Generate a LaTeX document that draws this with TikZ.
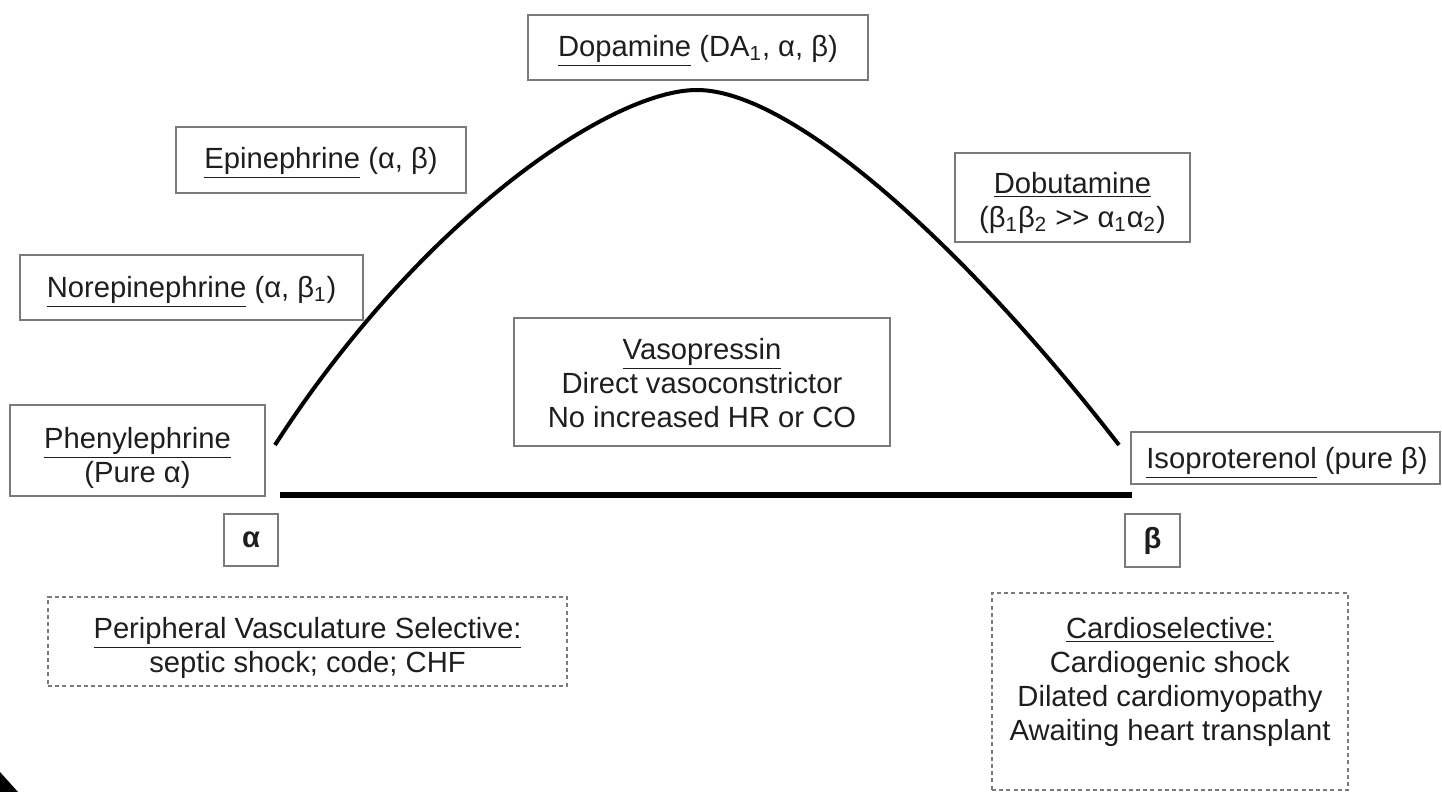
\documentclass[tikz,border=0pt]{standalone}
\usepackage{fontspec}
\setmainfont{Liberation Sans}
\definecolor{frame}{HTML}{7A7A7A}
\definecolor{ink}{HTML}{1E1E1E}
\begin{document}
\begin{tikzpicture}[x=0.5pt,y=-0.5pt,
  every node/.style={font=\fontsize{14.6}{17}\selectfont, text=ink},
  drug/.style={draw=frame, line width=1.1pt, inner sep=0pt},
  tag/.style={drug, font=\fontsize{14.6}{17}\selectfont\bfseries},
  usebox/.style={draw=frame, line width=0.9pt, dash pattern=on 2pt off 1.6pt, inner sep=0pt},
  lbl/.style={align=center, inner sep=0pt},
  curveline/.style={line width=2pt, black, line join=round},
  axisline/.style={line width=3pt, black}]
\useasboundingbox (0,0) rectangle (1442,792);

% drug boxes
\node[drug, minimum width=170pt, minimum height=32.5pt] (dopa) at (698,47.5) {};
\node[drug, minimum width=145pt, minimum height=33pt] (epi) at (321,160) {};
\node[drug, minimum width=171.5pt, minimum height=32.5pt] (norepi) at (191.5,287.5) {};
\node[drug, minimum width=127.5pt, minimum height=45.5pt] (phenyl) at (137.5,450.5) {};
\node[drug, minimum width=188pt, minimum height=64pt] (vaso) at (702,382) {};
\node[drug, minimum width=117.5pt, minimum height=44.5pt] (dobu) at (1072.5,197.5) {};
\node[drug, minimum width=154.5pt, minimum height=26pt] (iso) at (1285.5,458) {};

% drug labels
\node[lbl] (dopatext) at (698,50.5) {\underline{Dopamine} (DA\textsubscript{1}, α, β)};
\node[lbl] (epitext) at (321,163) {\underline{Epinephrine} (α, β)};
\node[lbl] (norepitext) at (191.5,292) {\underline{Norepinephrine} (α, β\textsubscript{1})};
\node[lbl] (phenyltext) at (137.5,457.5) {\underline{Phenylephrine}\\(Pure α)};
\node[lbl] (vasotext) at (702,383) {\underline{Vasopressin}\\Direct vasoconstrictor\\No increased HR or CO};
\node[lbl] (dobutext) at (1072.5,203) {\underline{Dobutamine}\\(β\textsubscript{1}β\textsubscript{2} >\kern0pt> α\textsubscript{1}α\textsubscript{2})};
\node[lbl] (isotext) at (1287,463) {\underline{Isoproterenol} (pure β)};

% receptor tags
\node[tag, minimum width=27pt, minimum height=26pt] (alpha) at (251,540) {α};
\node[tag, minimum width=27.5pt, minimum height=26.5pt] (beta) at (1152.5,540.5) {β};

% clinical use boxes
\node[usebox, minimum width=259.5pt, minimum height=44.5pt] (periph) at (307.5,641.5) {};
\node[lbl] (periphtext) at (307.5,647.5)
  {\underline{Peripheral Vasculature Selective:}\\septic shock; code; CHF};
\node[usebox, minimum width=178pt, minimum height=98.5pt] (cardio) at (1170,691.5) {};
\node[lbl] (cardiotext) at (1170,682)
  {\underline{Cardioselective:}\\Cardiogenic shock\\Dilated cardiomyopathy\\Awaiting heart transplant};

% activity curve and axis
\coordinate (curveL) at (275,445);
\coordinate (peak) at (697,90);
\coordinate (curveR) at (1119,445);
\coordinate (axisL) at (280,495);
\coordinate (axisR) at (1132,495);
\draw[curveline] (curveL) .. controls (420,220) and (610,90) .. (peak)
  .. controls (790,90) and (960,240) .. (curveR);
\draw[axisline] (axisL) -- (axisR);

% dark corner
\fill[black] (0,772) -- (18,792) -- (0,792) -- cycle;
\end{tikzpicture}
\end{document}
